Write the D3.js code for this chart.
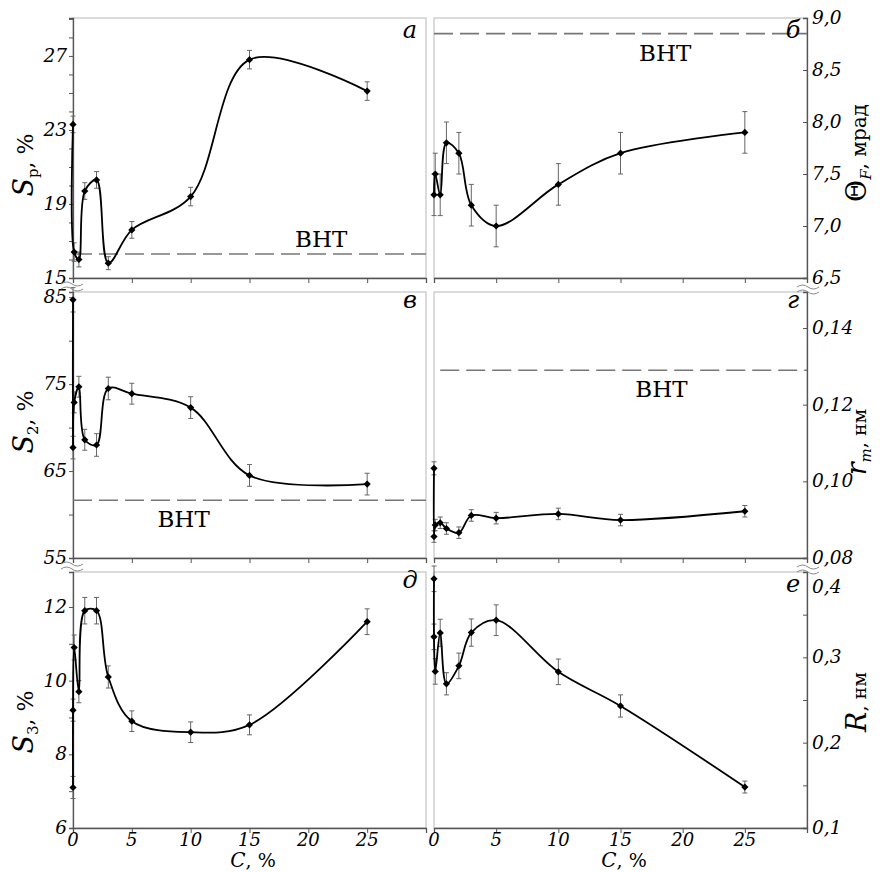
<!DOCTYPE html>
<html><head><meta charset="utf-8">
<script src="https://cdn.jsdelivr.net/npm/d3@7"></script>
<style>body{margin:0;background:#fff}svg{display:block}</style>
</head><body>
<svg id="c" width="880" height="872"></svg>
<script>
// ---- data ----
const concA = [0, 0.1, 0.5, 1, 2, 3, 5, 10, 15, 25];
const concB = [0, 0, 0.1, 0.5, 1, 2, 3, 5, 10, 15, 25];
const xTicks = [0, 5, 10, 15, 20, 25, 30];
const xTickLabels = [0, 5, 10, 15, 20, 25];

const sp      = [23.3, 16.4, 16.0, 19.7, 20.3, 15.8, 17.6, 19.4, 26.8, 25.1];
const spErr   = [0.45, 0.5, 0.4, 0.45, 0.45, 0.35, 0.45, 0.5, 0.5, 0.5];
const spBHT   = 16.3;

const thetaF    = [7.3, 7.5, 7.3, 7.8, 7.7, 7.2, 7.0, 7.4, 7.7, 7.9];
const thetaErr  = [0.2, 0.2, 0.2, 0.2, 0.2, 0.2, 0.2, 0.2, 0.2, 0.2];
const thetaBHT  = 8.85;

const s2    = [84.7, 67.7, 72.9, 74.7, 68.6, 68.0, 74.5, 73.9, 72.3, 64.5, 63.5];
const s2Err = [1.4, 1.3, 1.2, 1.2, 1.2, 1.3, 1.3, 1.2, 1.25, 1.25, 1.25];
const s2BHT = 61.65;

const rm    = [0.1034, 0.0856, 0.0886, 0.0892, 0.0877, 0.0866, 0.0911, 0.0904, 0.0915, 0.0899, 0.0922];
const rmErr = [0.0017, 0.0015, 0.0015, 0.0015, 0.0015, 0.0015, 0.0015, 0.0015, 0.0015, 0.0015, 0.0015];
const rmBHT = 0.129;

const s3    = [7.1, 9.2, 10.9, 9.7, 11.9, 11.9, 10.1, 8.9, 8.6, 8.8, 11.6];
const s3Err = [0.3, 0.3, 0.34, 0.3, 0.36, 0.36, 0.3, 0.28, 0.28, 0.27, 0.35];

const rr    = [0.392, 0.324, 0.2835, 0.3286, 0.269, 0.29, 0.329, 0.3435, 0.283, 0.243, 0.148];
const rrErr = [0.015, 0.015, 0.015, 0.016, 0.013, 0.015, 0.016, 0.018, 0.015, 0.013, 0.007];

const spTicks = [15,16,17,18,19,20,21,22,23,24,25,26,27,28,29], spLabels = [15, 19, 23, 27];
const thTicks = [6.5, 7.0, 7.5, 8.0, 8.5, 9.0], thLabels = [6.5, 7.0, 7.5, 8.0, 8.5, 9.0];
const s2Ticks = [55, 60, 65, 70, 75, 80, 85], s2Labels = [55, 65, 75, 85];
const rmTicks = [0.08, 0.10, 0.12, 0.14], rmLabels = [0.08, 0.10, 0.12, 0.14];
const s3Ticks = [6, 7, 8, 9, 10, 11, 12], s3Labels = [6, 8, 10, 12];
const rrTicks = [0.1, 0.15, 0.2, 0.25, 0.3, 0.35, 0.4], rrLabels = [0.1, 0.2, 0.3, 0.4];

// ---- layout ----
const svg = d3.select('#c');
const cols = [[73, 426], [434, 807]];
const rows = [[18, 278], [292, 558], [572, 828]];
const SERIF = "'DejaVu Serif', 'Liberation Serif', serif";
const comma = f => (v => f(v).replace('.', ','));

const panels = [
  {col:0,row:0,x:concA,y:sp,err:spErr,dom:[15,29.05],ticks:spTicks,labels:spLabels,fmt:d3.format('d'),
   bht:spBHT,bhtFrom:0,bhtText:[21.1,16.7],letter:'а'},
  {col:1,row:0,x:concA,y:thetaF,err:thetaErr,dom:[6.5,9.0],ticks:thTicks,labels:thLabels,fmt:comma(d3.format('.1f')),
   bht:thetaBHT,bhtFrom:0,bhtText:[18.6,8.59],letter:'б'},
  {col:0,row:1,x:concB,y:s2,err:s2Err,dom:[55,85.6],ticks:s2Ticks,labels:s2Labels,fmt:d3.format('d'),
   bht:s2BHT,bhtFrom:0,bhtText:[9.4,58.6],letter:'в'},
  {col:1,row:1,x:concB,y:rm,err:rmErr,dom:[0.08,0.1494],ticks:rmTicks,labels:rmLabels,fmt:comma(d3.format('.2f')),
   bht:rmBHT,bhtFrom:0.5,bhtText:[18.3,0.122],letter:'г'},
  {col:0,row:2,x:concB,y:s3,err:s3Err,dom:[6,12.95],ticks:s3Ticks,labels:s3Labels,fmt:d3.format('d'),
   bht:null,letter:'д',xlab:true},
  {col:1,row:2,x:concB,y:rr,err:rrErr,dom:[0.1,0.4],ticks:rrTicks,labels:rrLabels,fmt:comma(d3.format('.1f')),
   bht:null,letter:'е',xlab:true,topShift:15},
];

const line = d3.line().curve(d3.curveCatmullRom.alpha(0.5));

panels.forEach(p => {
  const [x0, x1] = cols[p.col], [y0, y1] = rows[p.row];
  const xs = d3.scaleLinear().domain([0, 30]).range([x0, x1]);
  const ys = d3.scaleLinear().domain(p.dom).range([y1, y0]);
  const g = svg.append('g');
  const left = p.col === 0;
  // frame
  g.append('rect').attr('x', x0).attr('y', y0).attr('width', x1 - x0).attr('height', y1 - y0)
    .attr('fill', 'none').attr('stroke', '#c4c4c4').attr('stroke-width', 1.2);
  // x axis
  const xa = g.append('g').attr('transform', `translate(0,${y1})`)
    .call(d3.axisBottom(xs).tickValues(xTicks).tickSize(5).tickFormat(''));
  xa.select('.domain').attr('stroke', '#555').attr('stroke-width', 1.3);
  xa.selectAll('.tick line').attr('stroke', '#555');
  if (p.xlab) {
    xTickLabels.forEach(v => {
      g.append('text').attr('x', xs(v)).attr('y', y1 + 18).attr('text-anchor', 'middle')
        .attr('font-family', SERIF).attr('font-style', 'italic').attr('font-size', 18).attr('fill', '#000').text(v);
    });
  }
  // y axis
  const ax = left ? d3.axisLeft(ys) : d3.axisRight(ys);
  const yg = g.append('g').attr('transform', `translate(${left ? x0 : x1},0)`)
    .call(ax.tickValues(p.ticks).tickSize(left ? 4 : -4).tickFormat(''));
  yg.select('.domain').attr('stroke', '#555').attr('stroke-width', 1.3);
  yg.selectAll('.tick line').attr('stroke', '#555');
  p.labels.forEach((v, i) => {
    let yy = ys(v) + 6;
    if (p.topShift && i === p.labels.length - 1) yy += p.topShift;
    g.append('text').attr('x', left ? x0 - 6 : x1 + 5).attr('y', yy)
      .attr('text-anchor', left ? 'end' : 'start')
      .attr('font-family', SERIF).attr('font-style', 'italic').attr('font-size', 18.5).attr('fill', '#000')
      .text(p.fmt(v));
  });
  // BHT reference
  if (p.bht !== null) {
    g.append('line').attr('x1', xs(p.bhtFrom)).attr('x2', x1).attr('y1', ys(p.bht)).attr('y2', ys(p.bht))
      .attr('stroke', '#777').attr('stroke-width', 1.6).attr('stroke-dasharray', '19,7');
    g.append('text').attr('x', xs(p.bhtText[0])).attr('y', ys(p.bhtText[1])).attr('text-anchor', 'middle')
      .attr('font-family', SERIF).attr('font-size', 23).attr('fill', '#000').text('ВНТ');
  }
  const pts = p.x.map((c, i) => ({c, v: p.y[i], e: p.err[i]}));
  // error bars
  const eb = g.append('g').attr('stroke', '#666').attr('stroke-width', 1);
  pts.forEach(d => {
    const cx = xs(d.c), ya = ys(d.v + d.e), yb = ys(d.v - d.e);
    eb.append('line').attr('x1', cx).attr('x2', cx).attr('y1', ya).attr('y2', yb);
    eb.append('line').attr('x1', cx - 2.5).attr('x2', cx + 2.5).attr('y1', ya).attr('y2', ya);
    eb.append('line').attr('x1', cx - 2.5).attr('x2', cx + 2.5).attr('y1', yb).attr('y2', yb);
  });
  // curve
  g.append('path').attr('d', line(pts.map(d => [xs(d.c), ys(d.v)])))
    .attr('fill', 'none').attr('stroke', '#000').attr('stroke-width', 1.8);
  // markers
  g.selectAll('path.m').data(pts).join('path').attr('class', 'm')
    .attr('d', d3.symbol(d3.symbolSquare, 26))
    .attr('transform', d => `translate(${xs(d.c)},${ys(d.v)}) rotate(45)`).attr('fill', '#000');
  // panel letter
  const lx = left ? x1 - 16 : x1 - 14;
  g.append('text').attr('x', lx).attr('y', y0 + (p.row === 0 ? 20 : 16) + (p.col === 1 && p.row===2 ? 4 : 0))
    .attr('text-anchor', 'middle').attr('font-family', SERIF).attr('font-style', 'italic')
    .attr('font-size', 24).attr('fill', '#000').text(p.letter);
});

// axis breaks
function brk(cx, cy) {
  [0, 5].forEach(dy => {
    svg.append('path').attr('d', `M${cx - 11},${cy + dy} q5.5,-4 11,0 t11,0`)
      .attr('fill', 'none').attr('stroke', '#888').attr('stroke-width', 1);
  });
}
[278, 558].forEach(b => { brk(72, b + 6); brk(808, b + 9); });

// axis titles
function title(x, y, parts) {
  const t = svg.append('text').attr('transform', `translate(${x},${y}) rotate(-90)`)
    .attr('text-anchor', 'middle').attr('font-family', SERIF).attr('fill', '#000');
  parts.forEach(pt => {
    const s = t.append('tspan').text(pt.t).attr('font-size', pt.s);
    if (pt.i) s.attr('font-style', 'italic');
    if (pt.dy) s.attr('dy', pt.dy);
  });
}
const sub = (main, mi, sb, si, rest, rs) => [
  {t: main, s: 27, i: mi}, {t: sb, s: 15, i: si, dy: 5}, {t: rest, s: rs, dy: -5}];
title(33, 165, sub('S', true, 'p', false, ', %', 22));
title(33, 422, sub('S', true, '2', false, ', %', 22));
title(33, 722, sub('S', true, '3', false, ', %', 22));
title(866, 153, sub('Θ', false, 'F', true, ', мрад', 20));
title(866, 442, sub('r', true, 'm', true, ', нм', 19));
title(866, 702, [{t: 'R', s: 27, i: true}, {t: ', нм', s: 19}]);

[253, 624].forEach(cx => {
  const t = svg.append('text').attr('x', cx).attr('y', 867).attr('text-anchor', 'middle')
    .attr('font-family', SERIF).attr('fill', '#000');
  t.append('tspan').attr('font-style', 'italic').attr('font-size', 20).text('C');
  t.append('tspan').attr('font-size', 19).text(', %');
});
</script>
</body></html>
